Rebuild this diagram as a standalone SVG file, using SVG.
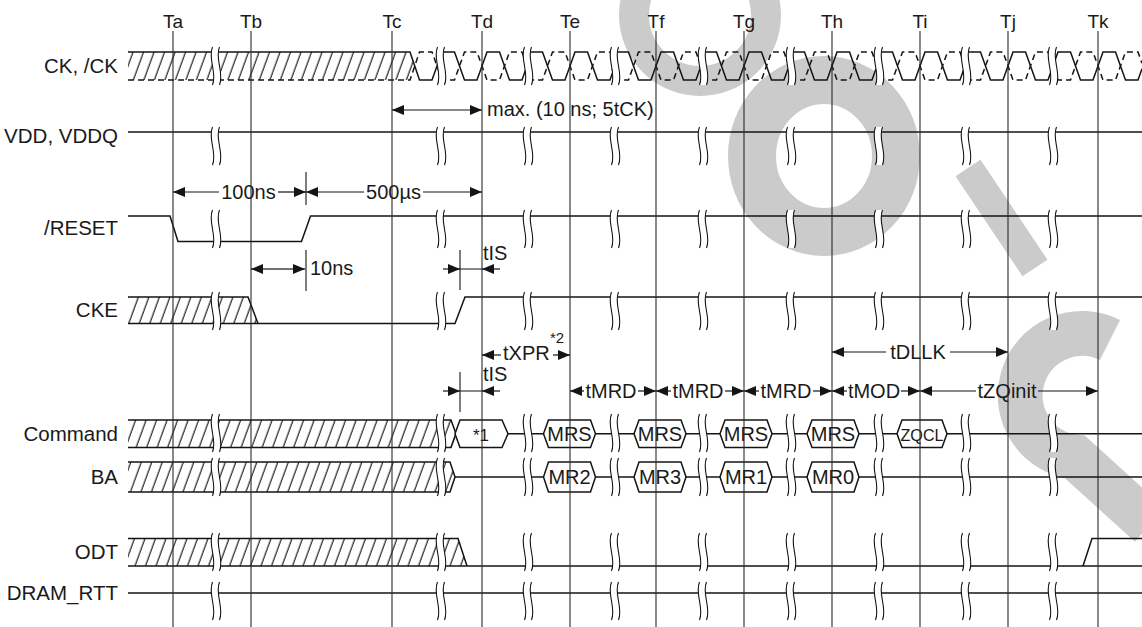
<svg xmlns="http://www.w3.org/2000/svg" xmlns:xlink="http://www.w3.org/1999/xlink" width="1142" height="627" viewBox="0 0 1142 627">
<style>
text{font-family:"Liberation Sans",Arial,Helvetica,sans-serif;fill:#1a1a1a}
.lb{font-size:20.5px;text-anchor:end}
.tm{font-size:19px;text-anchor:middle}
.an{font-size:20px}
.am{font-size:20px;text-anchor:middle}
.sig{fill:none;stroke:#141414;stroke-width:1.5}
.dsh{fill:none;stroke:#141414;stroke-width:1.5;stroke-dasharray:6 4}
.tl{stroke:#2a2a2a;stroke-width:1.1;fill:none}
.ar{fill:none;stroke:#141414;stroke-width:1.2;marker-end:url(#ah)}
.tk{fill:none;stroke:#141414;stroke-width:1.1}
.hat{fill:url(#hatch);stroke:none}
.box{fill:#fff;stroke:#141414;stroke-width:1.5}
.wm{fill:none;stroke:#cbcbcb}
</style>
<defs>
<pattern id="hatch" patternUnits="userSpaceOnUse" width="10.5" height="10" patternTransform="skewX(-20)">
<line x1="5" y1="-1" x2="5" y2="11" stroke="#141414" stroke-width="1.2"/>
</pattern>
<marker id="ah" markerUnits="userSpaceOnUse" markerWidth="12" markerHeight="10" refX="12" refY="5" orient="auto">
<path d="M0,0 L12,5 L0,10 z" fill="#141414"/>
</marker>
<path id="ckw" class="sig" d="M-44,63.2 L-40,52 H-27.5 L-17.5,80 H-5 L5,52 H17.5 L27.5,80 H40 L44,68.8"/>
<path id="ckbw" class="dsh" d="M-44,68.8 L-40,80 H-27.5 L-17.5,52 H-5 L5,80 H17.5 L27.5,52 H40 L44,63.2"/>
<g id="brk">
<path d="M-3.5,0 C-8.5,12 1.5,26 -3.5,38 L3.5,38 C8.5,26 -1.5,12 3.5,0 Z" fill="#fff" stroke="none"/>
<path d="M-3.5,0 C-8.5,12 1.5,26 -3.5,38 M3.5,0 C-1.5,12 8.5,26 3.5,38" fill="none" stroke="#141414" stroke-width="1.1"/>
</g>
</defs>
<rect width="1142" height="627" fill="#fff"/>
<g id="watermark">
<circle class="wm" cx="700" cy="15" r="66" stroke-width="30"/>
<ellipse class="wm" cx="824" cy="156" rx="72" ry="76" stroke-width="48"/>
<line class="wm" x1="968" y1="168" x2="1035" y2="268" stroke-width="30"/>
<path class="wm" d="M1110,340 A62,62 0 1 0 1075,457 L1150,525" stroke-width="45"/>
</g>
<g id="sig-ck">
<polygon class="hat" points="128,52 410,52 414.5,66 410,80 128,80"/>
<path class="sig" d="M128,52 H410 L419.5,80 H432 L438,63.2"/>
<path class="dsh" d="M128,80 H410 L419.5,52 H432 L438,68.8"/>
<use xlink:href="#ckw" x="482"/><use xlink:href="#ckbw" x="482"/>
<use xlink:href="#ckw" x="570"/><use xlink:href="#ckbw" x="570"/>
<use xlink:href="#ckw" x="656"/><use xlink:href="#ckbw" x="656"/>
<use xlink:href="#ckw" x="744"/><use xlink:href="#ckbw" x="744"/>
<use xlink:href="#ckw" x="832"/><use xlink:href="#ckbw" x="832"/>
<use xlink:href="#ckw" x="920"/><use xlink:href="#ckbw" x="920"/>
<use xlink:href="#ckw" x="1008"/><use xlink:href="#ckbw" x="1008"/>
<use xlink:href="#ckw" x="1098"/><use xlink:href="#ckbw" x="1098"/>
</g>
<g id="sig-vdd"><path class="sig" d="M128,132 H1142"/></g>
<g id="sig-reset"><path class="sig" d="M128,216 H170 L178,241.5 H301.5 L310.5,216 H1142"/></g>
<g id="sig-cke">
<polygon class="hat" points="128,297 248,297 258,323.5 128,323.5"/>
<path class="sig" d="M128,297 H248 L258,323.5"/>
<path class="sig" d="M128,323.5 H455 L465,297 H1142"/>
</g>
<g id="sig-command">
<polygon class="hat" points="128,420 451,420 456,433.7 451,447.5 128,447.5"/>
<path class="sig" d="M128,420 H451 L456,433.7 L451,447.5 H128"/>
<path class="sig" d="M508,433.7 H1142"/>
<polygon class="box" points="455,433.7 460,420 502,420 508,433.7 502,447.5 460,447.5"/>
<text x="481" y="440.5" style="font-size:17px;text-anchor:middle">*1</text>
<polygon class="box" points="543.5,433.7 548.5,420 590.5,420 595.5,433.7 590.5,447.5 548.5,447.5"/>
<text class="am" x="569.5" y="441">MRS</text>
<polygon class="box" points="634,433.7 639,420 681,420 686,433.7 681,447.5 639,447.5"/>
<text class="am" x="660" y="441">MRS</text>
<polygon class="box" points="720,433.7 725,420 767,420 772,433.7 767,447.5 725,447.5"/>
<text class="am" x="746" y="441">MRS</text>
<polygon class="box" points="807,433.7 812,420 854,420 859,433.7 854,447.5 812,447.5"/>
<text class="am" x="833" y="441">MRS</text>
<polygon class="box" points="897,433.7 902,420 942,420 947,433.7 942,447.5 902,447.5"/>
<text x="922" y="440.5" style="font-size:17px;text-anchor:middle" textLength="43" lengthAdjust="spacingAndGlyphs">ZQCL</text>
</g>
<g id="sig-ba">
<polygon class="hat" points="128,462 450,462 455,477 450,492 128,492"/>
<path class="sig" d="M128,462 H450 L455,477 L450,492 H128"/>
<path class="sig" d="M455,477 H1142"/>
<polygon class="box" points="543.5,477 548.5,462 590.5,462 595.5,477 590.5,492 548.5,492"/>
<text class="am" x="569.5" y="484">MR2</text>
<polygon class="box" points="634,477 639,462 681,462 686,477 681,492 639,492"/>
<text class="am" x="660" y="484">MR3</text>
<polygon class="box" points="720,477 725,462 767,462 772,477 767,492 725,492"/>
<text class="am" x="746" y="484">MR1</text>
<polygon class="box" points="807,477 812,462 854,462 859,477 854,492 812,492"/>
<text class="am" x="833" y="484">MR0</text>
</g>
<g id="sig-odt">
<polygon class="hat" points="128,538.5 458,538.5 467,566 128,566"/>
<path class="sig" d="M128,538.5 H458 L467,566"/>
<path class="sig" d="M128,566 H1142 M1083,566 L1092,538.5 H1142"/>
</g>
<g id="sig-rtt"><path class="sig" d="M128,593 H1142"/></g>
<g id="breaks">
<use xlink:href="#brk" x="216" y="47"/><use xlink:href="#brk" x="441" y="47"/><use xlink:href="#brk" x="528" y="47"/><use xlink:href="#brk" x="615" y="47"/><use xlink:href="#brk" x="703" y="47"/><use xlink:href="#brk" x="791" y="47"/><use xlink:href="#brk" x="879" y="47"/><use xlink:href="#brk" x="966" y="47"/><use xlink:href="#brk" x="1053" y="47"/>
<use xlink:href="#brk" x="216" y="127"/><use xlink:href="#brk" x="441" y="127"/><use xlink:href="#brk" x="528" y="127"/><use xlink:href="#brk" x="615" y="127"/><use xlink:href="#brk" x="703" y="127"/><use xlink:href="#brk" x="791" y="127"/><use xlink:href="#brk" x="879" y="127"/><use xlink:href="#brk" x="966" y="127"/><use xlink:href="#brk" x="1053" y="127"/>
<use xlink:href="#brk" x="216" y="210"/><use xlink:href="#brk" x="441" y="210"/><use xlink:href="#brk" x="528" y="210"/><use xlink:href="#brk" x="615" y="210"/><use xlink:href="#brk" x="703" y="210"/><use xlink:href="#brk" x="791" y="210"/><use xlink:href="#brk" x="879" y="210"/><use xlink:href="#brk" x="966" y="210"/><use xlink:href="#brk" x="1053" y="210"/>
<use xlink:href="#brk" x="216" y="292"/><use xlink:href="#brk" x="441" y="292"/><use xlink:href="#brk" x="528" y="292"/><use xlink:href="#brk" x="615" y="292"/><use xlink:href="#brk" x="703" y="292"/><use xlink:href="#brk" x="791" y="292"/><use xlink:href="#brk" x="879" y="292"/><use xlink:href="#brk" x="966" y="292"/><use xlink:href="#brk" x="1053" y="292"/>
<use xlink:href="#brk" x="216" y="414"/><use xlink:href="#brk" x="441" y="414"/><use xlink:href="#brk" x="528" y="414"/><use xlink:href="#brk" x="615" y="414"/><use xlink:href="#brk" x="703" y="414"/><use xlink:href="#brk" x="791" y="414"/><use xlink:href="#brk" x="879" y="414"/><use xlink:href="#brk" x="966" y="414"/><use xlink:href="#brk" x="1053" y="414"/>
<use xlink:href="#brk" x="216" y="458"/><use xlink:href="#brk" x="441" y="458"/><use xlink:href="#brk" x="528" y="458"/><use xlink:href="#brk" x="615" y="458"/><use xlink:href="#brk" x="703" y="458"/><use xlink:href="#brk" x="791" y="458"/><use xlink:href="#brk" x="879" y="458"/><use xlink:href="#brk" x="966" y="458"/><use xlink:href="#brk" x="1053" y="458"/>
<use xlink:href="#brk" x="216" y="533"/><use xlink:href="#brk" x="441" y="533"/><use xlink:href="#brk" x="528" y="533"/><use xlink:href="#brk" x="615" y="533"/><use xlink:href="#brk" x="703" y="533"/><use xlink:href="#brk" x="791" y="533"/><use xlink:href="#brk" x="879" y="533"/><use xlink:href="#brk" x="966" y="533"/><use xlink:href="#brk" x="1053" y="533"/>
<use xlink:href="#brk" x="216" y="582"/><use xlink:href="#brk" x="441" y="582"/><use xlink:href="#brk" x="528" y="582"/><use xlink:href="#brk" x="615" y="582"/><use xlink:href="#brk" x="703" y="582"/><use xlink:href="#brk" x="791" y="582"/><use xlink:href="#brk" x="879" y="582"/><use xlink:href="#brk" x="966" y="582"/><use xlink:href="#brk" x="1053" y="582"/>
</g>
<g id="time-lines">
<path class="tl" d="M173,31 V627 M251,31 V627 M392,31 V627 M482,31 V627 M570,31 V627 M656,31 V627 M744,31 V627 M832,31 V627 M920,31 V627 M1008,31 V627 M1098,31 V627"/>
<text class="tm" x="173" y="28">Ta</text>
<text class="tm" x="251" y="28">Tb</text>
<text class="tm" x="392" y="28">Tc</text>
<text class="tm" x="482" y="28">Td</text>
<text class="tm" x="570" y="28">Te</text>
<text class="tm" x="656" y="28">Tf</text>
<text class="tm" x="744" y="28">Tg</text>
<text class="tm" x="832" y="28">Th</text>
<text class="tm" x="920" y="28">Ti</text>
<text class="tm" x="1008" y="28">Tj</text>
<text class="tm" x="1098" y="28">Tk</text>
</g>
<g id="labels">
<text class="lb" x="118" y="73">CK, /CK</text>
<text class="lb" x="118" y="143">VDD, VDDQ</text>
<text class="lb" x="118" y="235">/RESET</text>
<text class="lb" x="118" y="317">CKE</text>
<text class="lb" x="118" y="441">Command</text>
<text class="lb" x="118" y="484">BA</text>
<text class="lb" x="118" y="559">ODT</text>
<text class="lb" x="118" y="600">DRAM_RTT</text>
</g>
<g id="connectors">
<path class="ar" d="M437,110 H392"/><path class="ar" d="M437,110 H482"/>
<text class="an" x="487" y="116">max. (10 ns; 5tCK)</text>
<path class="ar" d="M219,192 H173"/><path class="ar" d="M278,192 H306"/>
<text class="am" x="248.5" y="199">100ns</text>
<path class="ar" d="M364,192 H306"/><path class="ar" d="M423,192 H482"/>
<text class="am" x="393.5" y="199">500µs</text>
<path class="tk" d="M306,172 V205"/>
<path class="ar" d="M280,269 H251"/><path class="ar" d="M280,269 H305"/>
<path class="tk" d="M306,250 V291"/>
<text class="an" x="310" y="274.5">10ns</text>
<path class="ar" d="M443,269 H460"/><path class="ar" d="M500,269 H482"/><path class="tk" d="M460,269 H482 M460,250 V290"/>
<text class="an" x="483" y="259.5">tIS</text>
<path class="ar" d="M501,355 H482"/><path class="ar" d="M553,355 H570"/>
<text class="an" x="503" y="360">tXPR</text>
<text x="550" y="343" style="font-size:15px">*2</text>
<path class="ar" d="M443,391 H460"/><path class="ar" d="M500,391 H482"/><path class="tk" d="M460,391 H482 M460,372 V412"/>
<text class="an" x="483" y="381">tIS</text>
<path class="ar" d="M584,391 H570"/><path class="ar" d="M638,391 H656"/>
<text class="am" x="611" y="398">tMRD</text>
<path class="ar" d="M671,391 H656"/><path class="ar" d="M725,391 H744"/>
<text class="am" x="698" y="398">tMRD</text>
<path class="ar" d="M759,391 H744"/><path class="ar" d="M813,391 H832"/>
<text class="am" x="786" y="398">tMRD</text>
<path class="ar" d="M847,391 H832"/><path class="ar" d="M901,391 H920"/>
<text class="am" x="874" y="398">tMOD</text>
<path class="ar" d="M976,391 H920"/><path class="ar" d="M1038,391 H1098"/>
<text class="am" x="1007" y="398">tZQinit</text>
<path class="ar" d="M886,352 H832"/><path class="ar" d="M950,352 H1008"/>
<text class="am" x="918" y="358.5">tDLLK</text>
</g>
</svg>
